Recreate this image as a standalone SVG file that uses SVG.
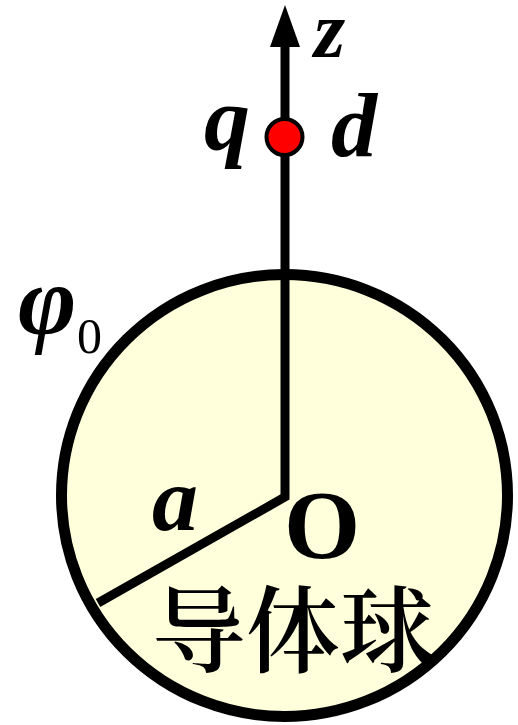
<svg xmlns="http://www.w3.org/2000/svg" width="518" height="725" viewBox="0 0 518 725">
<style>
.serif{font-family:"Liberation Serif","Times New Roman",serif;fill:#000}
.bi{font-weight:bold;font-style:italic}
.ln{stroke:#000;stroke-width:9;fill:none;stroke-linecap:butt}
</style>
<rect width="518" height="725" fill="#fff"/>
<g id="sphere">
<ellipse cx="284.5" cy="495.5" rx="223" ry="221" fill="#FFFFDC" stroke="#000" stroke-width="11"/>
</g>
<g id="connectors">
<polyline class="ln" points="285,44 285,497 98,603" stroke-linejoin="miter"/>
<polygon points="285,5 270,47 300,47" fill="#000"/>
</g>
<g id="charge">
<circle cx="284.5" cy="137" r="18" fill="#FF0000" stroke="#000" stroke-width="4"/>
</g>
<g id="labels">
<text class="serif bi" x="314" y="57" font-size="80">z</text>
<text class="serif bi" x="204" y="150" font-size="92">q</text>
<text class="serif bi" x="331" y="156" font-size="92">d</text>
<text class="serif bi" x="18" y="334" font-size="100">φ</text>
<text class="serif" x="77" y="353" font-size="50">0</text>
<text class="serif bi" x="152" y="530" font-size="92">a</text>
<text class="serif" x="284" y="558" font-size="98" font-weight="bold">O</text>
<text x="152" y="665" font-size="94" font-weight="600" font-family="'Noto Serif CJK SC','Noto Sans CJK SC',serif" fill="#000">导体球</text>
</g>
</svg>
